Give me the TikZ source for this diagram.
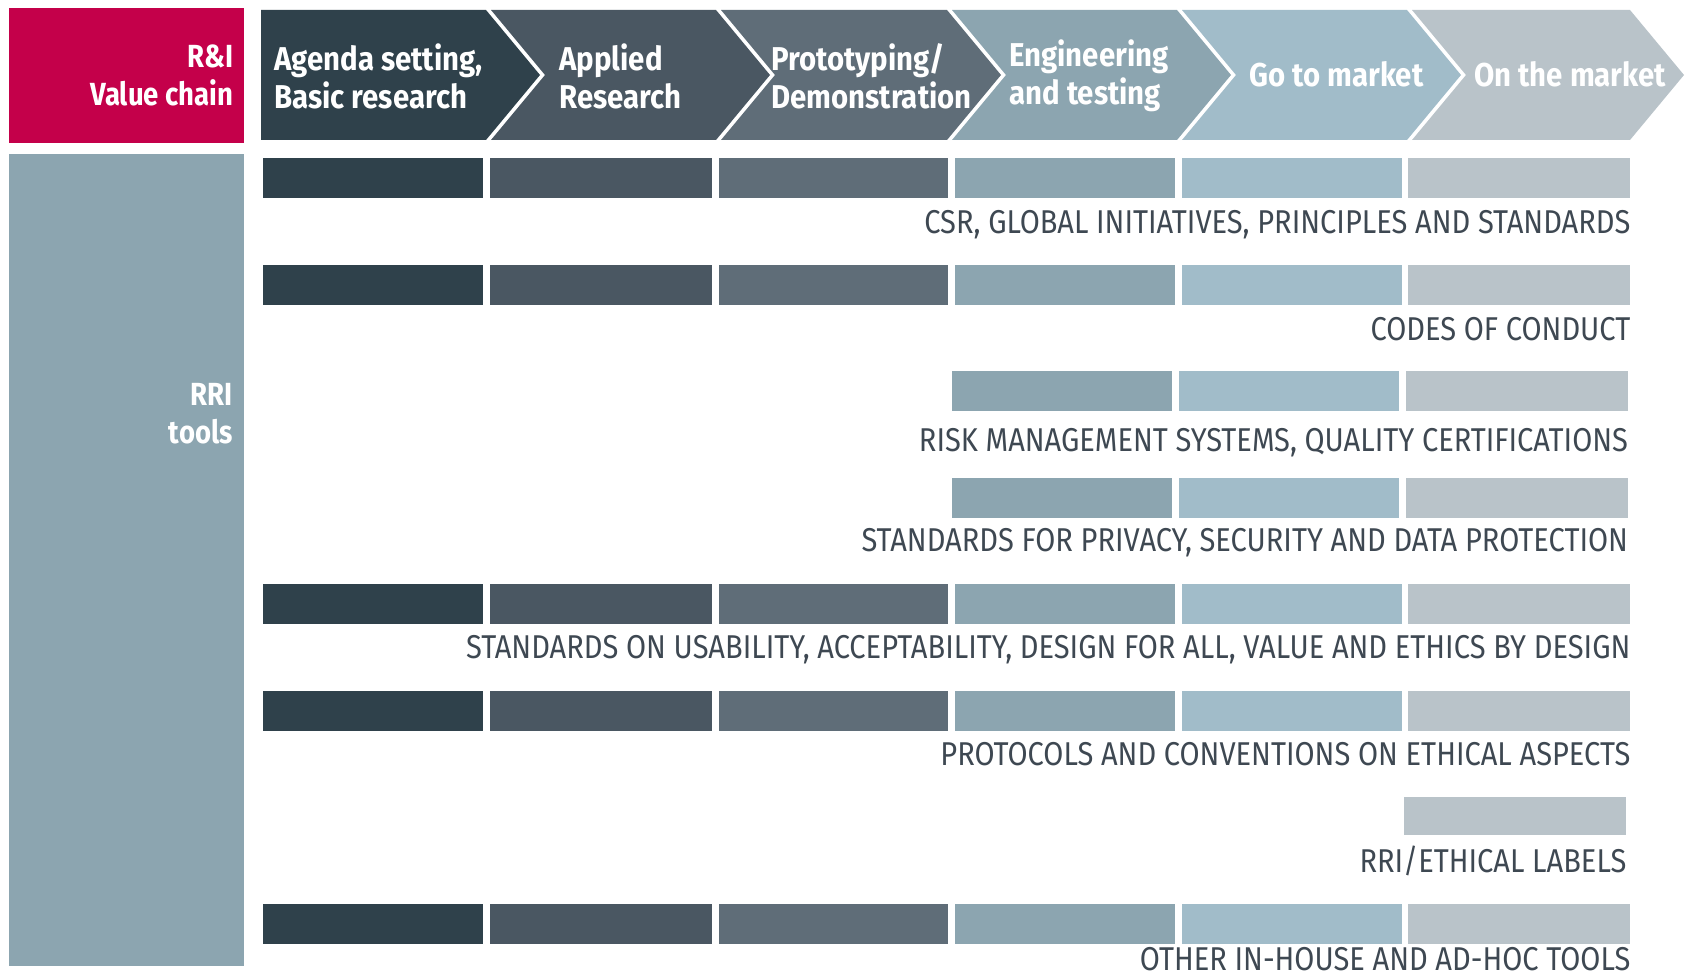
\documentclass[tikz,border=0pt]{standalone}
\usepackage{fontspec}
\usepackage{xcolor}
\usepackage{tikz}
\usetikzlibrary{positioning,calc}
\newfontfamily\hdfont{Fira Sans}[FakeStretch=0.89]
\newfontfamily\sdfont{Fira Sans}[FakeStretch=0.86]
\newfontfamily\lblfont{Fira Sans}[FakeStretch=0.88]
\definecolor{rired}{RGB}{196,0,74}
\definecolor{vca}{RGB}{47,65,75}
\definecolor{vcb}{RGB}{74,87,98}
\definecolor{vcc}{RGB}{95,109,120}
\definecolor{vcd}{RGB}{140,165,176}
\definecolor{vce}{RGB}{161,188,201}
\definecolor{vcf}{RGB}{185,195,201}
\definecolor{lblgr}{RGB}{62,72,82}
\tikzset{
	box/.style = { rectangle, inner sep=0pt, anchor=north west },
	bar/.style = { box, minimum height=20pt },
	c1/.style = { bar, fill=vca, minimum width=110pt },
	c2/.style = { bar, fill=vcb, minimum width=111pt },
	c3/.style = { bar, fill=vcc, minimum width=114.5pt },
	c4/.style = { bar, fill=vcd, minimum width=110pt },
	c5/.style = { bar, fill=vce, minimum width=110pt },
	c6/.style = { bar, fill=vcf, minimum width=111pt },
	hd/.style = { font=\hdfont\bfseries\fontsize{16.5}{19}\selectfont, text=white, align=left, anchor=west, inner sep=0pt },
	side/.style = { font=\sdfont\bfseries\fontsize{16}{19}\selectfont, text=white, align=right, anchor=east, inner sep=0pt },
	lbl/.style = { font=\lblfont\fontsize{16.5}{18}\selectfont, text=lblgr, anchor=east, inner sep=0pt },
}
\begin{document}
\begin{tikzpicture}[x=0.5pt,y=-0.5pt,node distance=3pt]
\useasboundingbox (0,0) rectangle (1686,978);

% value chain
\node (vcbox) [box,fill=rired,minimum width=117.5pt,minimum height=67.5pt] at (9,8) {};
\node (vclbl) [side] at ($(vcbox.east)+(-11,0)$) {R\&I\\Value chain};

\fill[vca] (261,10) -- (486,10) -- (540,75) -- (486,140) -- (261,140) -- cycle;
\fill[vcb] (491,10) -- (716,10) -- (770,75) -- (716,140) -- (491,140) -- (545,75) -- cycle;
\fill[vcc] (721,10) -- (947,10) -- (1001,75) -- (947,140) -- (721,140) -- (775,75) -- cycle;
\fill[vcd] (952,10) -- (1177,10) -- (1231,75) -- (1177,140) -- (952,140) -- (1006,75) -- cycle;
\fill[vce] (1182,10) -- (1407,10) -- (1461,75) -- (1407,140) -- (1182,140) -- (1236,75) -- cycle;
\fill[vcf] (1412,10) -- (1630,10) -- (1684,75) -- (1630,140) -- (1412,140) -- (1466,75) -- cycle;

\node (agd) [hd] at (274,76)  {Agenda setting,\\Basic research};
\node (app) [hd] at (559,76)  {Applied\\Research};
\node (pro) [hd] at (771,76)  {Prototyping/\\Demonstration};
\node (eng) [hd] at (1009,76) {Engineering\\and testing};
\node (gtm) [hd] at (1249,74) {Go to market};
\node (otm) [hd] at (1474,74) {On the market};

% tools
\node (rribox) [box,fill=vcd,minimum width=117.5pt,minimum height=406pt] at (9,154) {};
\node (rrilbl) [side] at (233,414) {RRI\\tools};

\node (csr1) [c1] at (263,158) {};
\node (csr2) [c2,right=of csr1] {};
\node (csr3) [c3,right=of csr2] {};
\node (csr4) [c4,right=of csr3] {};
\node (csr5) [c5,right=of csr4] {};
\node (csr6) [c6,right=of csr5] {};
\node (lcsr) [lbl] at ($(csr6.south east)+(0,26)$) {CSR, GLOBAL INITIATIVES, PRINCIPLES AND STANDARDS};

\node (coc1) [c1] at (263,264.5) {};
\node (coc2) [c2,right=of coc1] {};
\node (coc3) [c3,right=of coc2] {};
\node (coc4) [c4,right=of coc3] {};
\node (coc5) [c5,right=of coc4] {};
\node (coc6) [c6,right=of coc5] {};
\node (lcoc) [lbl] at ($(coc6.south east)+(0,24)$) {CODES OF CONDUCT};

\node (rsk4) [c4] at (952,371) {};
\node (rsk5) [c5,right=of rsk4] {};
\node (rsk6) [c6,right=of rsk5] {};
\node (lrsk) [lbl] at ($(rsk6.south east)+(0,31)$) {RISK MANAGEMENT SYSTEMS, QUALITY CERTIFICATIONS};

\node (prv4) [c4] at (952,477.5) {};
\node (prv5) [c5,right=of prv4] {};
\node (prv6) [c6,right=of prv5] {};
\node (lprv) [lbl] at ($(prv6.south east)+(0,24)$) {STANDARDS FOR PRIVACY, SECURITY AND DATA PROTECTION};

\node (usa1) [c1] at (263,584) {};
\node (usa2) [c2,right=of usa1] {};
\node (usa3) [c3,right=of usa2] {};
\node (usa4) [c4,right=of usa3] {};
\node (usa5) [c5,right=of usa4] {};
\node (usa6) [c6,right=of usa5] {};
\node (lusa) [lbl] at ($(usa6.south east)+(0,25)$) {STANDARDS ON USABILITY, ACCEPTABILITY, DESIGN FOR ALL, VALUE AND ETHICS BY DESIGN};

\node (eth1) [c1] at (263,690.5) {};
\node (eth2) [c2,right=of eth1] {};
\node (eth3) [c3,right=of eth2] {};
\node (eth4) [c4,right=of eth3] {};
\node (eth5) [c5,right=of eth4] {};
\node (eth6) [c6,right=of eth5] {};
\node (leth) [lbl] at ($(eth6.south east)+(0,23)$) {PROTOCOLS AND CONVENTIONS ON ETHICAL ASPECTS};

\node (lab6) [c6,minimum height=19pt] at (1404,797) {};
\node (llab) [lbl] at ($(lab6.south east)+(0,25)$) {RRI/ETHICAL LABELS};

\node (oth1) [c1] at (263,903.5) {};
\node (oth2) [c2,right=of oth1] {};
\node (oth3) [c3,right=of oth2] {};
\node (oth4) [c4,right=of oth3] {};
\node (oth5) [c5,right=of oth4] {};
\node (oth6) [c6,right=of oth5] {};
\node (loth) [lbl] at ($(oth6.south east)+(0,15)$) {OTHER IN-HOUSE AND AD-HOC TOOLS};

\end{tikzpicture}
\end{document}
